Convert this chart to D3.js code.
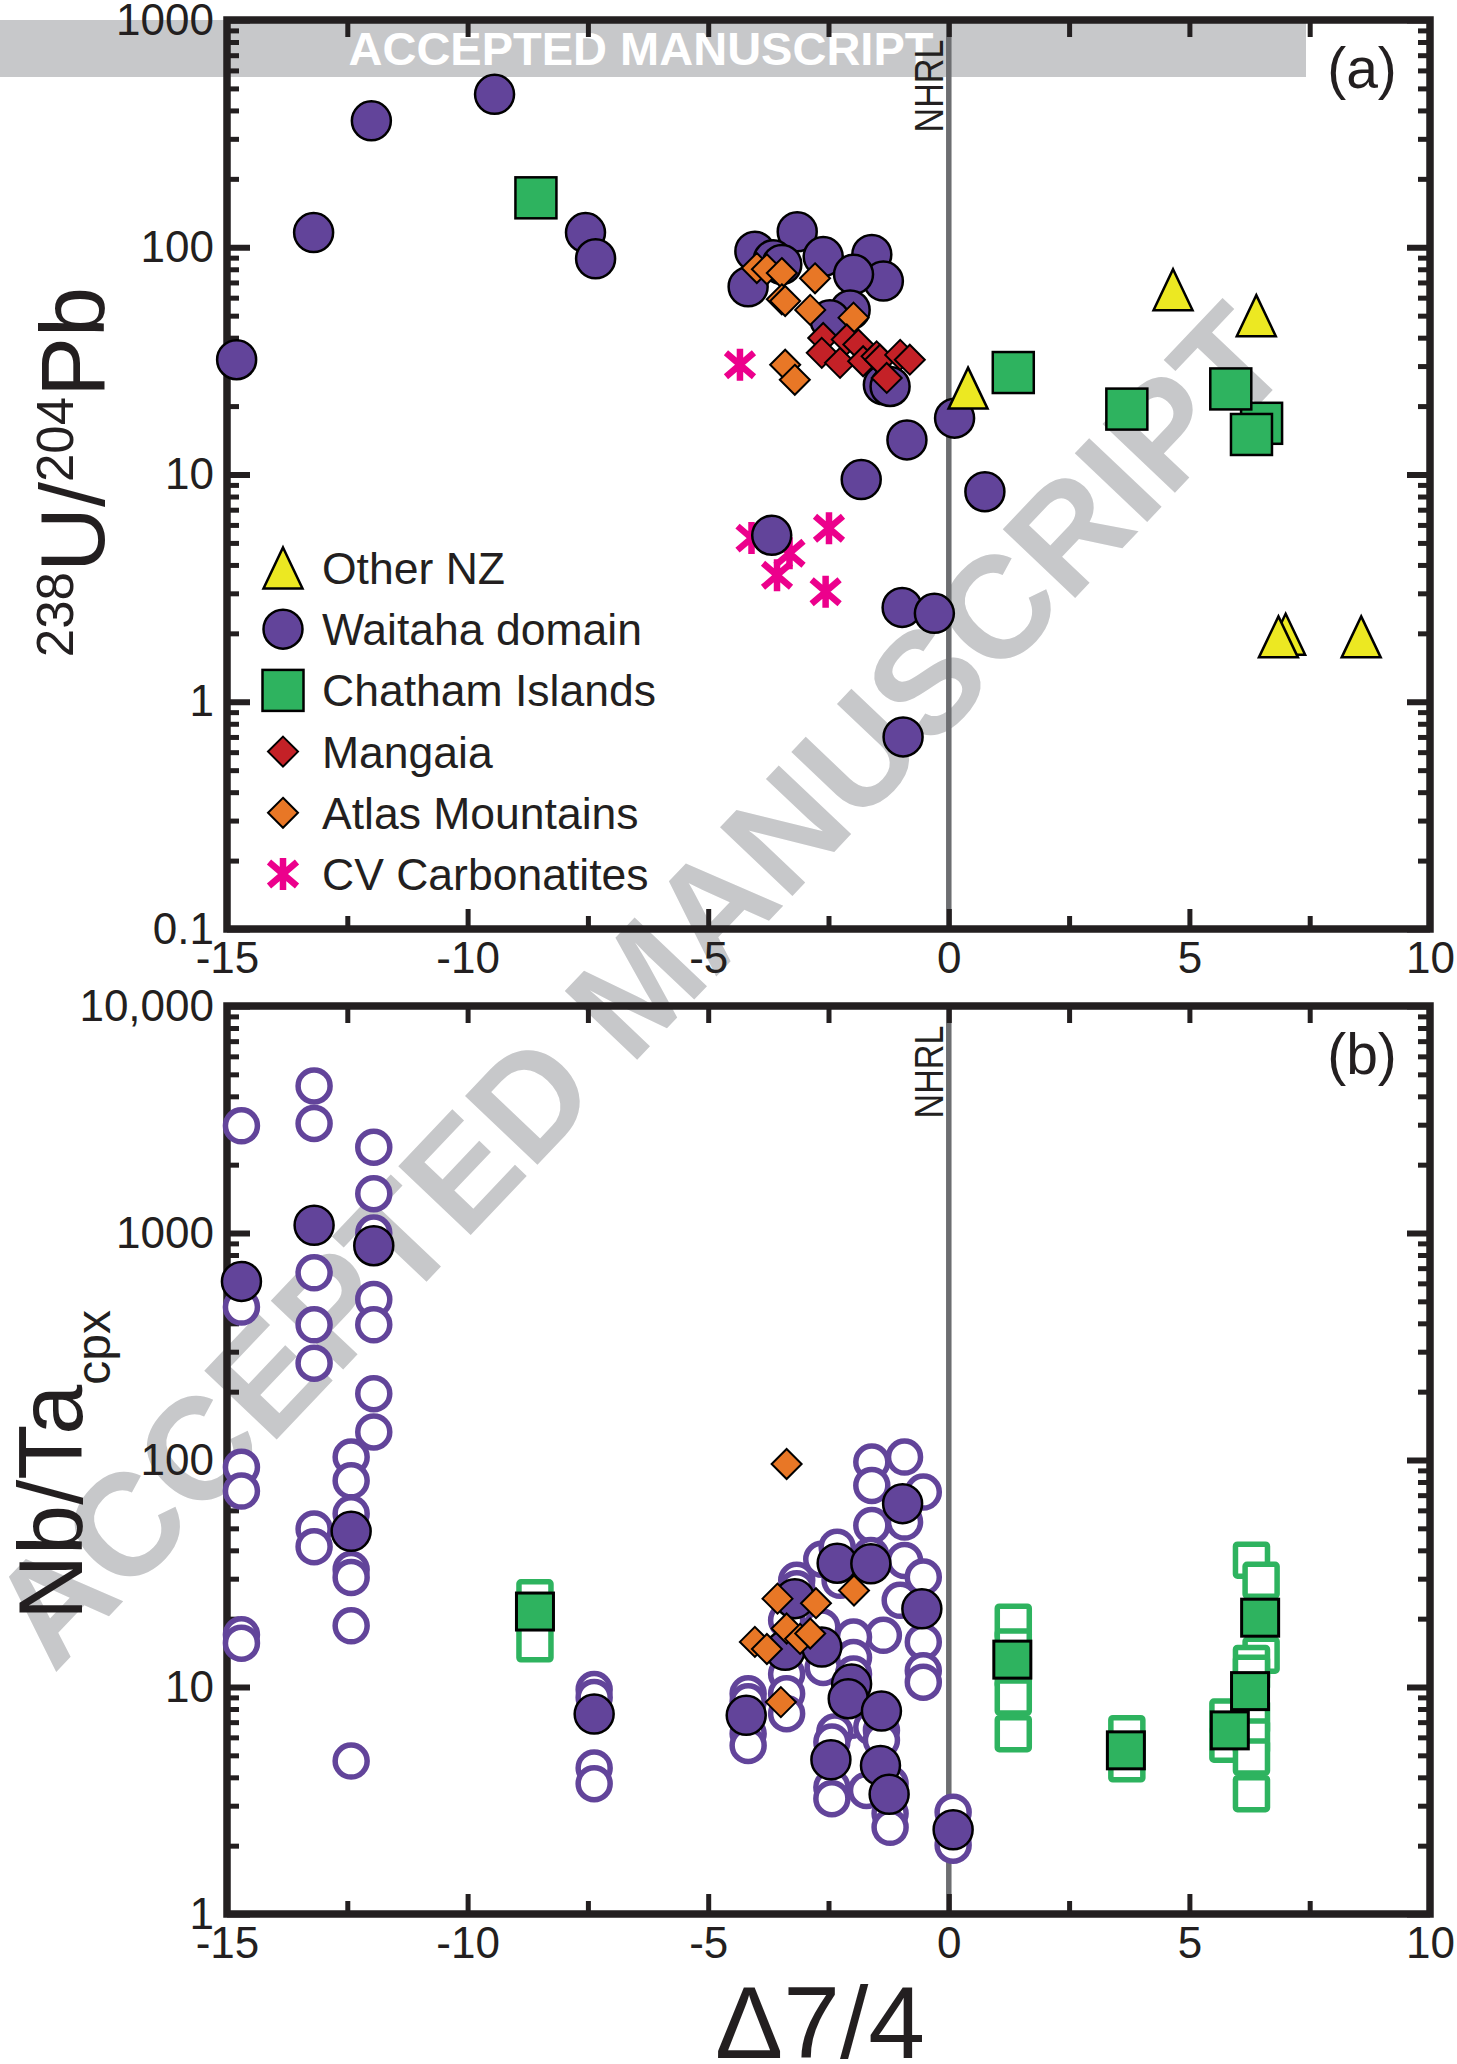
<!DOCTYPE html>
<html>
<head>
<meta charset="utf-8">
<script src="https://cdn.jsdelivr.net/npm/d3@7"></script>
<style>
body { margin: 0; background: #fff; }
svg { display: block; }
text { font-family: 'Liberation Sans', Arial, Helvetica, sans-serif; fill: #231f20; }
</style>
</head>
<body>
<div class="chart"></div>
<script>
// ---- data (Δ7/4, value) ----
// panel (a): 238U/204Pb
var otherNZ_a = [[0.4,24],[4.66,65],[6.39,50],[7.0,1.98],[6.85,1.93],[8.57,1.93]];
var waitaha_a = [[-14.8,32],[-13.2,116],[-12.0,360],[-9.44,471],[-7.55,116],[-7.34,89],
  [-3.15,117],[-4.03,96],[-3.65,88],[-3.47,84],[-4.17,67],[-2.61,91],[-1.60,93],[-1.36,71],
  [-1.98,76],[-2.05,53],[-2.47,48],[-1.36,24.8],[-1.22,24.4],
  [0.12,17.7],[-0.87,14.2],[-1.82,9.5],[0.75,8.4],[-3.68,5.4],[-0.97,2.6],[-0.3,2.45],[-0.95,0.70]];
var chatham_a = [[-8.58,165],[1.34,28.1],[3.70,19.4],[6.50,16.8],[5.86,23.8],[6.29,15.0]];
var mangaia_a = [[-2.61,39.9],[-2.64,34.3],[-2.26,31],[-2.12,39.3],[-1.88,37.3],[-1.78,31.5],
  [-1.50,33.1],[-1.43,32],[-1.29,26.6],[-1.01,33.6],[-0.81,32]];
var atlas_a = [[-3.99,81],[-3.78,80],[-3.47,77],[-2.78,73],[-3.47,59],[-3.40,58],[-2.88,53],
  [-1.98,49],[-3.40,30.4],[-3.20,26.1]];
var carbonatites_a = [[-4.34,30.4],[-4.10,5.25],[-3.31,4.5],[-3.57,3.6],[-2.49,5.8],[-2.56,3.05]];

// panel (b): Nb/Ta cpx
var waitahaOpen_b = [
  [-14.7,2966],[-14.7,472],[-14.7,93],[-14.7,73],[-14.7,17],[-14.7,15.6],
  [-13.19,4444],[-13.19,3040],[-13.19,668],[-13.19,394],[-13.19,267],[-13.19,49.7],[-13.19,41.5],
  [-11.95,2389],[-11.95,1490],[-11.95,1000],[-11.95,510],[-11.95,394],[-11.95,196],[-11.95,133],
  [-12.42,103],[-12.42,81],[-12.42,58],[-12.42,32.9],[-12.42,30.4],[-12.42,18.6],[-12.42,4.72],
  [-7.37,9.74],[-7.37,9.0],[-7.37,4.4],[-7.37,3.75],
  [-1.60,97.9],[-0.92,103],[-1.60,77.3],[-0.53,72.2],[-0.96,58],[-0.92,53.3],[-1.60,51.5],
  [-1.62,38],[-0.92,36.1],[-2.64,36.5],[-2.32,41.3],[-0.53,30.5],[-1.01,24.1],[-1.36,16.9],
  [-0.53,15.8],[-0.53,11.8],[-0.53,10.5],[-1.98,16.6],[-1.98,13.5],[-3.16,29.5],[-3.16,27.1],
  [-2.26,29.5],[-3.37,19.7],[-2.64,18.4],[-2.61,12.2],[-3.37,11.4],[-3.37,9.34],[-3.37,7.63],
  [-1.98,11.4],[-2.02,7.13],[-2.37,6.33],[-2.43,5.72],[-2.43,3.62],[-2.43,3.22],[-1.60,6.66],
  [-1.40,6.44],[-1.40,5.82],[-1.71,3.50],[-1.22,3.75],[-1.22,2.77],[-1.22,2.41],
  [0.09,2.81],[0.09,2.2],[0.09,2.01],[-4.17,9.34],[-4.17,8.6],[-4.17,6.22],[-4.17,5.53]];
var waitahaFilled_b = [[-14.7,612],[-13.19,1082],[-11.95,879],[-12.42,48.5],[-7.37,7.6],
  [-0.96,64.2],[-2.32,35.1],[-1.62,34.9],[-0.56,22.1],[-3.20,24.5],[-3.40,14.5],[-2.64,15],
  [-2.02,10.3],[-2.09,8.88],[-1.40,7.83],[-4.21,7.5],[-2.45,4.78],[-1.42,4.51],[-1.24,3.37],[0.09,2.35]];
var chathamOpen_b = [[-8.60,24.7],[-8.60,15.5],[1.34,19.3],[1.34,15.0],[1.34,11.8],[1.34,9.03],[1.34,6.23],
  [3.70,6.23],[3.70,4.59],[5.80,7.37],[5.80,5.6],[6.29,36.2],[6.49,29.5],[6.49,13.8],[6.29,12.7],
  [6.29,11.5],[6.29,7.37],[6.29,6.02],[6.29,4.91],[6.29,3.39]];
var chathamFilled_b = [[-8.60,21.5],[1.32,13.2],[3.68,5.26],[5.84,6.44],[6.26,9.59],[6.47,20.2]];
var atlas_b = [[-3.37,96],[-3.56,24.5],[-2.76,23.4],[-1.97,26.6],[-3.37,18.1],[-3.09,16.3],
  [-2.88,17.2],[-4.03,15.8],[-3.78,14.7],[-3.49,8.58]];

var legendNames = ["Other NZ","Waitaha domain","Chatham Islands","Mangaia","Atlas Mountains","CV Carbonatites"];
var legendTypes = ["triangle","circle","square","diamondRed","diamondOrange","asterisk"];

var xMajor = [-15,-10,-5,0,5,10];
var xMinor = [-12.5,-7.5,-2.5,2.5,7.5];
var yTicksA = [0.1,1,10,100,1000];
var yLabelsA = ["0.1","1","10","100","1000"];
var yTicksB = [1,10,100,1000,10000];
var yLabelsB = ["1","10","100","1000","10,000"];

var purple = "#62449a", green = "#2eb35f", yellow = "#ece822", red = "#c42127",
    orange = "#e87726", magenta = "#ec008c", ink = "#231f20", grey = "#c7c8ca";

var width = 1457, height = 2064;

var svg = d3.select(".chart")
  .append("svg")
  .attr("width", width)
  .attr("height", height);

var x = d3.scaleLinear().domain([-15, 10]).range([227, 1430]);
var yA = d3.scaleLog().domain([0.1, 1000]).range([929, 20]);
var yB = d3.scaleLog().domain([1, 10000]).range([1914, 1006]);

// watermark + banner (behind everything)
svg.append("rect")
  .attr("x", 0).attr("y", 20).attr("width", 1306).attr("height", 57)
  .attr("fill", grey);

svg.append("text")
  .attr("x", 641).attr("y", 65)
  .attr("text-anchor", "middle")
  .style("font-size", "47px").style("font-weight", "bold").style("fill", "#fff")
  .text("ACCEPTED MANUSCRIPT");

svg.append("text")
  .attr("transform", "translate(638,985) rotate(-46.5)")
  .attr("text-anchor", "middle")
  .attr("dy", "0.35em")
  .style("font-size", "145px").style("font-weight", "bold").style("fill", grey)
  .text("ACCEPTED MANUSCRIPT");

function minorLog(domain) {
  var out = [];
  for (var e = Math.log10(domain[0]); e < Math.log10(domain[1]); e++) {
    for (var k = 2; k <= 9; k++) out.push(k * Math.pow(10, e));
  }
  return out;
}

function styleAxis(g, w) {
  g.select(".domain").remove();
  g.selectAll(".tick line").attr("stroke", ink).attr("stroke-width", w);
  g.selectAll(".tick text").style("font-size", "44px").style("fill", ink);
}

function drawPanel(y, yTicks, yLabels, tag) {
  var r = y.range();
  var top = r[1], bottom = r[0];

  // NHRL line
  svg.append("line")
    .attr("x1", x(0)).attr("x2", x(0))
    .attr("y1", top).attr("y2", bottom)
    .attr("stroke", "#6d6e71").attr("stroke-width", 5.5);

  svg.append("text")
    .attr("transform", "translate(" + (x(0) - 6) + "," + (top + 66) + ") rotate(-90)")
    .attr("text-anchor", "middle")
    .attr("textLength", 93).attr("lengthAdjust", "spacingAndGlyphs")
    .style("font-size", "40px")
    .text("NHRL");

  var fmt = function(d){ return String(d); };

  svg.append("g").attr("transform", "translate(0," + bottom + ")")
    .call(d3.axisBottom(x).tickValues(xMajor).tickSize(-20).tickPadding(13).tickFormat(fmt))
    .call(styleAxis, 5);
  svg.append("g").attr("transform", "translate(0," + bottom + ")")
    .call(d3.axisBottom(x).tickValues(xMinor).tickSize(-13).tickFormat(""))
    .call(styleAxis, 5);
  svg.append("g").attr("transform", "translate(0," + top + ")")
    .call(d3.axisTop(x).tickValues(xMajor.concat(xMinor)).tickSize(-17).tickFormat(""))
    .call(styleAxis, 5);

  svg.append("g").attr("transform", "translate(" + x.range()[0] + ",0)")
    .call(d3.axisLeft(y).tickValues(yTicks).tickSize(-23).tickPadding(13)
      .tickFormat(function(d, i){ return yLabels[i]; }))
    .call(styleAxis, 6);
  svg.append("g").attr("transform", "translate(" + x.range()[0] + ",0)")
    .call(d3.axisLeft(y).tickValues(minorLog(y.domain())).tickSize(-12).tickFormat(""))
    .call(styleAxis, 5);
  svg.append("g").attr("transform", "translate(" + x.range()[1] + ",0)")
    .call(d3.axisRight(y).tickValues(yTicks).tickSize(-23).tickFormat(""))
    .call(styleAxis, 6);
  svg.append("g").attr("transform", "translate(" + x.range()[1] + ",0)")
    .call(d3.axisRight(y).tickValues(minorLog(y.domain())).tickSize(-12).tickFormat(""))
    .call(styleAxis, 5);

  svg.append("rect")
    .attr("x", x.range()[0]).attr("y", top)
    .attr("width", x.range()[1] - x.range()[0]).attr("height", bottom - top)
    .attr("fill", "none").attr("stroke", ink).attr("stroke-width", 7.5);

  svg.append("text")
    .attr("x", 1362).attr("y", top + 68)
    .attr("text-anchor", "middle")
    .style("font-size", "57px")
    .text(tag);
}

var markers = svg.append("g");

function symbol(sel, type) {
  if (type == "circle") {
    sel.append("circle").attr("r", 19.5)
      .attr("fill", purple).attr("stroke", "#000").attr("stroke-width", 2.5);
  } else if (type == "openCircle") {
    sel.append("circle").attr("r", 16)
      .attr("fill", "#fff").attr("stroke", purple).attr("stroke-width", 5.5);
  } else if (type == "square") {
    sel.append("rect").attr("x", -20.5).attr("y", -20.5).attr("width", 41).attr("height", 41)
      .attr("fill", green).attr("stroke", "#000").attr("stroke-width", 2.5);
  } else if (type == "squareB") {
    sel.append("rect").attr("x", -18.5).attr("y", -18.5).attr("width", 37).attr("height", 37)
      .attr("fill", green).attr("stroke", "#000").attr("stroke-width", 3);
  } else if (type == "openSquare") {
    sel.append("rect").attr("x", -16).attr("y", -16).attr("width", 32).attr("height", 32).attr("rx", 2)
      .attr("fill", "#fff").attr("stroke", green).attr("stroke-width", 5.5);
  } else if (type == "triangle") {
    sel.append("path").attr("d", "M0,-20.5L19.5,20.5L-19.5,20.5Z")
      .attr("fill", yellow).attr("stroke", "#000").attr("stroke-width", 2.5);
  } else if (type == "diamondRed" || type == "diamondOrange") {
    sel.append("path").attr("d", "M0,-15L15,0L0,15L-15,0Z")
      .attr("fill", type == "diamondRed" ? red : orange).attr("stroke", "#000").attr("stroke-width", 2);
  } else if (type == "asterisk") {
    sel.append("path").attr("d", "M0,-16V16M-14,-12L14,12M-14,12L14,-12")
      .attr("fill", "none").attr("stroke", magenta).attr("stroke-width", 6.5);
  }
}

function plot(data, y, type) {
  markers.append("g").selectAll("g")
    .data(data)
    .enter().append("g")
    .attr("transform", function(d){ return "translate(" + x(d[0]) + "," + y(d[1]) + ")"; })
    .each(function(){ symbol(d3.select(this), type); });
}

drawPanel(yA, yTicksA, yLabelsA, "(a)");
drawPanel(yB, yTicksB, yLabelsB, "(b)");

svg.node().appendChild(markers.node());

plot(carbonatites_a, yA, "asterisk");
plot(waitaha_a, yA, "circle");
plot(atlas_a, yA, "diamondOrange");
plot(mangaia_a, yA, "diamondRed");
plot(chatham_a, yA, "square");
plot(otherNZ_a, yA, "triangle");

plot(waitahaOpen_b, yB, "openCircle");
plot(chathamOpen_b, yB, "openSquare");
plot(waitahaFilled_b, yB, "circle");
plot(chathamFilled_b, yB, "squareB");
plot(atlas_b, yB, "diamondOrange");

// legend
var legend = svg.append("g").selectAll("g")
  .data(legendNames)
  .enter().append("g")
  .attr("transform", function(d, i){ return "translate(283," + (568 + i * 61.2) + ")"; });

legend.each(function(d, i){ symbol(d3.select(this), legendTypes[i]); });

legend.append("text")
  .attr("x", 39).attr("dy", "0.36em")
  .style("font-size", "44.5px")
  .text(function(d){ return d; });

// axis titles
var ya = svg.append("text")
  .attr("transform", "translate(104,472) rotate(-90)")
  .attr("text-anchor", "middle");
ya.append("tspan").attr("dy", -31).style("font-size", "51px").text("238");
ya.append("tspan").attr("dy", 31).style("font-size", "90px").text("U/");
ya.append("tspan").attr("dy", -31).style("font-size", "51px").text("204");
ya.append("tspan").attr("dy", 31).style("font-size", "90px").text("Pb");

var yb = svg.append("text")
  .attr("transform", "translate(82,1465) rotate(-90)")
  .attr("text-anchor", "middle");
yb.append("tspan").style("font-size", "90px").text("Nb/Ta");
yb.append("tspan").attr("dy", 28).style("font-size", "48px").text("cpx");

svg.append("text")
  .attr("x", 820).attr("y", 2058)
  .attr("text-anchor", "middle")
  .style("font-size", "102px")
  .text("Δ7/4");
</script>
</body>
</html>
